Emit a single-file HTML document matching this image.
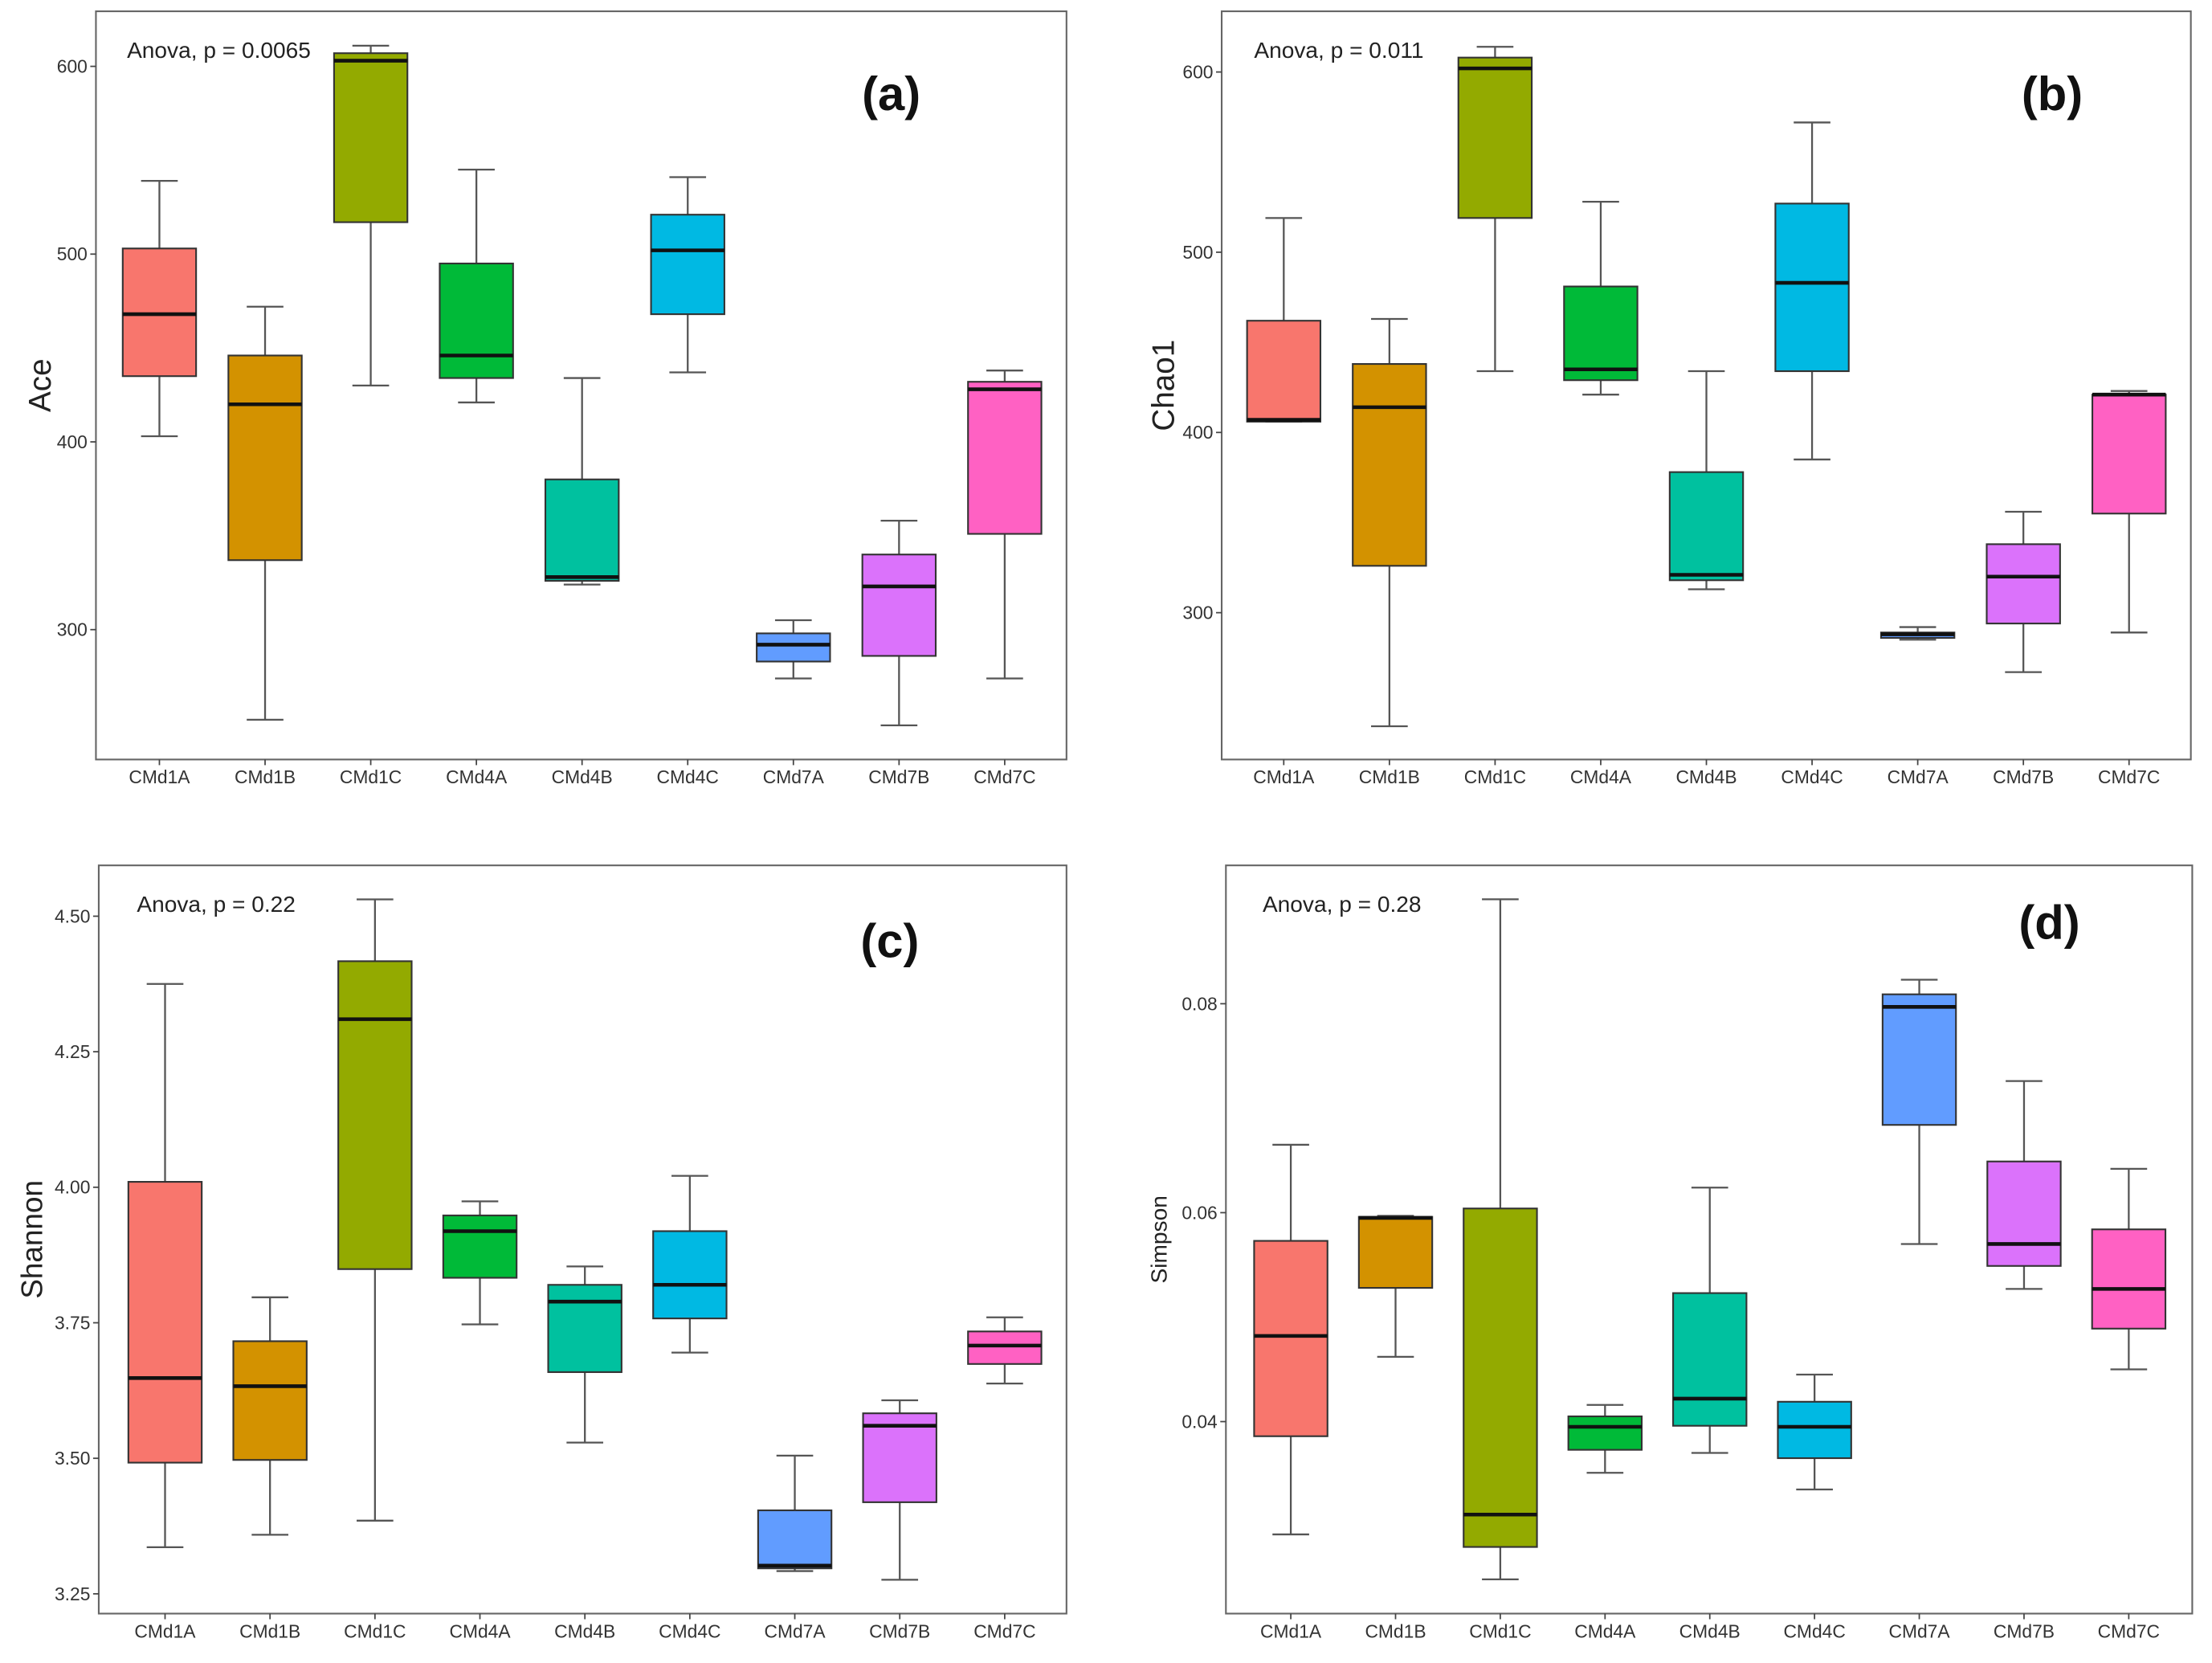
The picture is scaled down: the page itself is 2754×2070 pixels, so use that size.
<!DOCTYPE html>
<html><head><meta charset="utf-8"><style>
html,body{margin:0;padding:0;background:#fff;}
svg{display:block;font-family:"Liberation Sans",sans-serif;}
</style></head><body>
<svg id="chart" width="2754" height="2070" viewBox="0 0 1568 1178" preserveAspectRatio="none" xmlns="http://www.w3.org/2000/svg"></svg>
<script>
const categories = ["CMd1A","CMd1B","CMd1C","CMd4A","CMd4B","CMd4C","CMd7A","CMd7B","CMd7C"];
const colors = ["#F8766D","#D39200","#93AA00","#00BA38","#00C19F","#00B9E3","#619CFF","#DB72FB","#FF61C3"];
// [min, q1, median, q3, max]
const aceStats = [[403,435,468,503,539],[252,337,420,446,472],[430,517,603,607,611],[421,434,446,495,545],[324,326,328,380,434],[437,468,502,521,541],[274,283,292,298,305],[249,286,323,340,358],[274,351,428,432,438]];
const chaoStats = [[406,406,407,462,519],[237,326,414,438,463],[434,519,602,608,614],[421,429,435,481,528],[313,318,321,378,434],[385,434,483,527,572],[285,286,288,289,292],[267,294,320,338,356],[289,355,421,421,423]];
const shannonStats = [[3.336,3.492,3.648,4.010,4.375],[3.359,3.497,3.633,3.716,3.797],[3.385,3.849,4.310,4.417,4.531],[3.747,3.833,3.919,3.948,3.974],[3.529,3.659,3.789,3.820,3.854],[3.695,3.758,3.820,3.919,4.021],[3.292,3.297,3.302,3.404,3.505],[3.276,3.419,3.560,3.583,3.607],[3.638,3.674,3.708,3.734,3.760]];
const simpsonStats = [[0.0292,0.0386,0.0482,0.0573,0.0665],[0.0462,0.0528,0.0595,0.0596,0.0597],[0.0249,0.0280,0.0311,0.0604,0.0900],[0.0351,0.0373,0.0395,0.0405,0.0416],[0.0370,0.0396,0.0422,0.0523,0.0624],[0.0335,0.0365,0.0395,0.0419,0.0445],[0.0570,0.0684,0.0797,0.0809,0.0823],[0.0527,0.0549,0.0570,0.0649,0.0726],[0.0450,0.0489,0.0527,0.0584,0.0642]];
const aceTicks = [300,400,500,600];
const chaoTicks = [300,400,500,600];
const shannonTicks = [3.25,3.50,3.75,4.00,4.25,4.50];
const simpsonTicks = [0.04,0.06,0.08];

const NS="http://www.w3.org/2000/svg";
const svg=document.getElementById('chart');
function mk(tag,attrs,parent){const e=document.createElementNS(NS,tag);for(const k in attrs)e.setAttribute(k,attrs[k]);(parent||svg).appendChild(e);return e;}

const panels=[
 {key:'a',title:'Ace',titleSize:22,tOff:32,anova:'Anova, p = 0.0065',stats:aceStats,ticks:aceTicks,fmt:v=>String(v),
  box:[68,8,756,538],v0:600,y0:47,v1:300,y1:446,x0:113,dx:74.9,ax:90,lab:[611,66]},
 {key:'b',title:'Chao1',titleSize:22,tOff:34,anova:'Anova, p = 0.011',stats:chaoStats,ticks:chaoTicks,fmt:v=>String(v),
  box:[866,8,1553,538],v0:600,y0:51,v1:300,y1:434,x0:910,dx:74.9,ax:889,lab:[1433,66]},
 {key:'c',title:'Shannon',titleSize:21,tOff:40,anova:'Anova, p = 0.22',stats:shannonStats,ticks:shannonTicks,fmt:v=>v.toFixed(2),
  box:[70,613,756,1143],v0:4.5,y0:649,v1:3.25,y1:1129,x0:117,dx:74.4,ax:97,lab:[610,666]},
 {key:'d',title:'Simpson',titleSize:16,tOff:42,anova:'Anova, p = 0.28',stats:simpsonStats,ticks:simpsonTicks,fmt:v=>v.toFixed(2),
  box:[869,613,1554,1143],v0:0.08,y0:711,v1:0.04,y1:1007,x0:915,dx:74.25,ax:895,lab:[1431,653]}
];

panels.forEach(p=>{
  const g=mk('g',{});
  
  
  const ys=v=>p.y0+(v-p.v0)*(p.y1-p.y0)/(p.v1-p.v0);
  const xs=i=>p.x0+i*p.dx;
  const [L,T,R,B]=p.box;
  const fr=mk('rect',{x:L,y:T,width:R-L,height:B-T,fill:'none',stroke:'#666','stroke-width':1.2},g);
  
  
  p.ticks.forEach(t=>{
    const y=ys(t);
    mk('line',{x1:L-4,x2:L,y1:y,y2:y,stroke:'#444','stroke-width':1},g);
    const tx=mk('text',{x:L-6,y:y+4.5,'font-size':13,'text-anchor':'end',fill:'#333'},g);
    tx.textContent=p.fmt(t);
    
    
  });
  const yt=mk('text',{x:0,y:0,'font-size':p.titleSize,'text-anchor':'middle',fill:'#222',transform:`translate(${L-p.tOff},${(T+B)/2}) rotate(-90)`},g);
  yt.textContent=p.title;
  
  
  const an=mk('text',{x:p.ax,y:T+33,'font-size':16,fill:'#222'},g);
  an.textContent=p.anova;
  
  
  const pl=mk('text',{x:p.lab[0],y:p.lab[1]+12,'font-size':34,'font-weight':'bold',fill:'#111'},g);
  pl.textContent='('+p.key+')';
  
  
  categories.forEach((c,i)=>{
    const x=xs(i), s=p.stats[i], w=26;
    mk('line',{x1:x,x2:x,y1:B,y2:B+4,stroke:'#444','stroke-width':1},g);
    const xl=mk('text',{x:x,y:B+17,'font-size':13,'text-anchor':'middle',fill:'#333'},g);
    xl.textContent=c;
    
    
    const bg=mk('g',{},g);
    
    
    mk('line',{x1:x,x2:x,y1:ys(s[0]),y2:ys(s[1]),stroke:'#555','stroke-width':1.3},bg);
    mk('line',{x1:x,x2:x,y1:ys(s[3]),y2:ys(s[4]),stroke:'#555','stroke-width':1.3},bg);
    mk('line',{x1:x-13,x2:x+13,y1:ys(s[0]),y2:ys(s[0]),stroke:'#555','stroke-width':1.3},bg);
    mk('line',{x1:x-13,x2:x+13,y1:ys(s[4]),y2:ys(s[4]),stroke:'#555','stroke-width':1.3},bg);
    mk('rect',{x:x-w,y:ys(s[3]),width:2*w,height:Math.max(ys(s[1])-ys(s[3]),0.5),fill:colors[i],stroke:'#333','stroke-width':1.2},bg);
    mk('line',{x1:x-w,x2:x+w,y1:ys(s[2]),y2:ys(s[2]),stroke:'#111','stroke-width':2.6},bg);
  });
});
</script>
</body></html>
